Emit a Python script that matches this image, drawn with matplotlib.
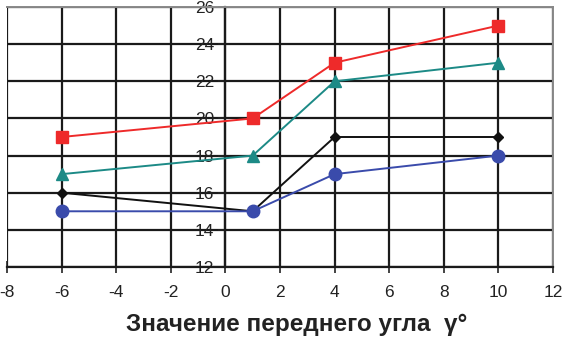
import matplotlib
matplotlib.use("Agg")
import matplotlib.pyplot as plt

x = [-6, 1, 4, 10]
red_sq = [19, 20, 23, 25]
teal_tri = [17, 18, 22, 23]
black_dia = [16, 15, 19, 19]
blue_circ = [15, 15, 17, 18]
xticks = [-8, -6, -4, -2, 0, 2, 4, 6, 8, 10, 12]
yticks = [12, 14, 16, 18, 20, 22, 24, 26]
xlabel = "Значение переднего угла  γ°"

plt.rcParams['font.family'] = ['Liberation Sans', 'DejaVu Sans']
plt.rcParams['axes.unicode_minus'] = False

fig = plt.figure(figsize=(5.63, 3.39), dpi=100)
ax = fig.add_axes([7/563, 1-267/339, (553-7)/563, 260/339])

ax.set_xlim(-8, 12)
ax.set_ylim(12, 26)
ax.set_xticks(xticks)
ax.set_yticks(yticks)
ax.grid(True, color='#1a1a1a', linewidth=1.6, zorder=0)

ax.spines['left'].set_position(('data', 0))
for s in ['top', 'right']:
    ax.spines[s].set_color('#888888')
    ax.spines[s].set_linewidth(1.4)
ax.spines['left'].set_linewidth(1.6)
ax.spines['bottom'].set_linewidth(1.6)
ax.spines['left'].set_color('#1a1a1a')
ax.spines['bottom'].set_color('#1a1a1a')
ax.axvline(-8, color='#777777', linewidth=1.4, zorder=0)

ax.tick_params(axis='x', direction='inout', length=8, width=1.2, labelsize=12.5, pad=9, colors='#222222')
ax.tick_params(axis='y', direction='out', length=5, width=1.2, labelsize=12.5, pad=3, colors='#222222')

ax.plot(x, black_dia, color='#111111', marker='D', markersize=5.5, linewidth=1.4, zorder=3)
ax.plot(x, blue_circ, color='#3a4bab', marker='o', markersize=9, linewidth=1.4, zorder=3)
ax.plot(x, teal_tri, color='#1c8a86', marker='^', markersize=9, linewidth=1.4, zorder=3)
ax.plot(x, red_sq, color='#ee2a2a', marker='s', markersize=9, linewidth=1.4, zorder=3)

fig.text(297/563, 1-325/339, xlabel, ha='center', va='center', fontsize=17.5, fontweight='bold', color='#222222')

fig.savefig("out.png", dpi=100)
